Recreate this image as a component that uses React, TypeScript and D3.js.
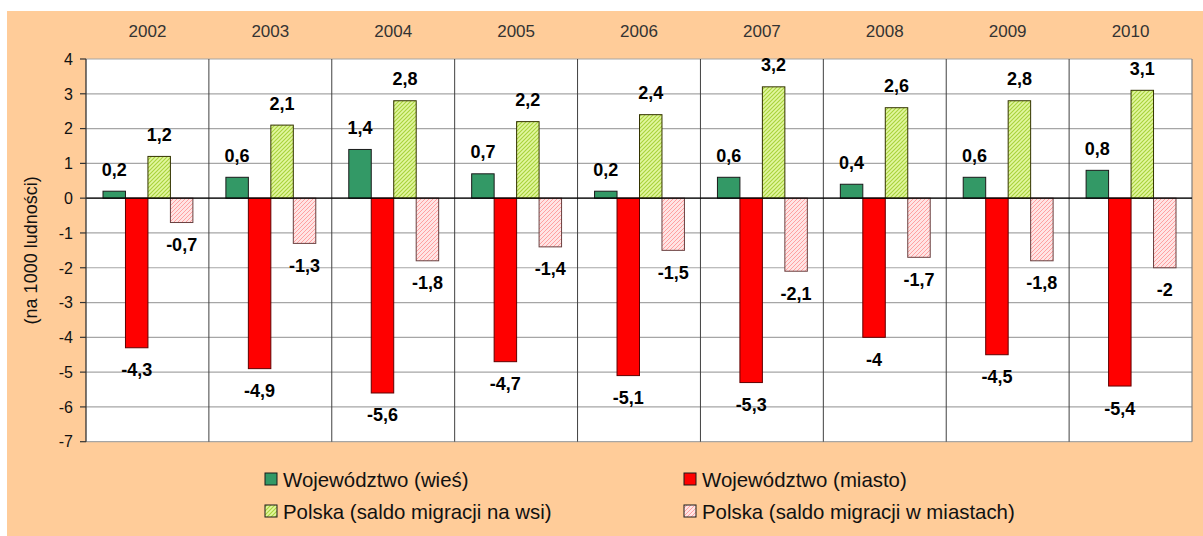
import React from "react";
import * as d3 from "d3";

const years = ["2002", "2003", "2004", "2005", "2006", "2007", "2008", "2009", "2010"];
const wojWies = [0.2, 0.6, 1.4, 0.7, 0.2, 0.6, 0.4, 0.6, 0.8];
const wojMiasto = [-4.3, -4.9, -5.6, -4.7, -5.1, -5.3, -4, -4.5, -5.4];
const polskaWies = [1.2, 2.1, 2.8, 2.2, 2.4, 3.2, 2.6, 2.8, 3.1];
const polskaMiasto = [-0.7, -1.3, -1.8, -1.4, -1.5, -2.1, -1.7, -1.8, -2];
const yTicks = [4, 3, 2, 1, 0, -1, -2, -3, -4, -5, -6, -7];
const seriesNames = [
  "Województwo (wieś)",
  "Województwo (miasto)",
  "Polska (saldo migracji na wsi)",
  "Polska (saldo migracji w miastach)",
];

const W = 1203;
const H = 536;
const plotL = 86;
const plotR = 1192;
const plotT = 59;
const plotB = 441.7;

const fills = ["#339966", "#ff0000", "url(#limeHatch)", "url(#pinkHatch)"];
const strokes = ["#1a1a1a", "#600000", "#333300", "#6a4040"];

const fmt = (v: number) => String(v).replace(".", ",");

export default function App() {
  const series = [wojWies, wojMiasto, polskaWies, polskaMiasto];
  const x = d3.scaleBand<string>().domain(years).range([plotL, plotR]).padding(0);
  const y = d3.scaleLinear().domain([-7, 4]).range([plotB, plotT]);
  const inner = d3
    .scaleBand<number>()
    .domain([0, 1, 2, 3])
    .range([17, x.bandwidth() - 16])
    .padding(0);
  const font = "'Liberation Sans', Arial, sans-serif";

  const legendPos = [
    { sx: 265, tx: 283, y: 479.5 },
    { sx: 684, tx: 702, y: 479.5 },
    { sx: 265, tx: 283, y: 511.5 },
    { sx: 684, tx: 702, y: 511.5 },
  ];

  return (
    <svg width={W} height={H} style={{ position: "absolute", left: 0, top: 0 }}>
      <defs>
        <pattern id="limeHatch" patternUnits="userSpaceOnUse" width="4" height="4">
          <rect width="4" height="4" fill="#e2f7a0" />
          <path d="M-1,1 l2,-2 M0,4 l4,-4 M3,5 l2,-2" stroke="#a8d23a" strokeWidth="1.1" />
        </pattern>
        <pattern id="pinkHatch" patternUnits="userSpaceOnUse" width="4" height="4">
          <rect width="4" height="4" fill="#ffe4e4" />
          <path d="M-1,1 l2,-2 M0,4 l4,-4 M3,5 l2,-2" stroke="#ffa0a0" strokeWidth="1" />
        </pattern>
      </defs>
      <rect x={0} y={0} width={W} height={H} fill="#ffffff" />
      <rect x={7} y={11} width={W - 7} height={H - 11} fill="#ffcc99" />
      <rect x={plotL} y={plotT} width={plotR - plotL} height={plotB - plotT} fill="#ffffff" />

      {/* horizontal gridlines */}
      {yTicks.map((t) => (
        <line
          key={"g" + t}
          x1={plotL}
          x2={plotR}
          y1={y(t)}
          y2={y(t)}
          stroke="#a6a6a6"
          strokeWidth={1.2}
        />
      ))}
      {/* vertical separators */}
      {years.map((yr, i) =>
        i === 0 ? null : (
          <line
            key={"v" + yr}
            x1={x(yr)}
            x2={x(yr)}
            y1={plotT}
            y2={plotB}
            stroke="#404040"
            strokeWidth={1}
          />
        )
      )}
      <line x1={plotR} x2={plotR} y1={plotT} y2={plotB} stroke="#808080" strokeWidth={1.2} />

      {/* bars */}
      {series.map((vals, si) =>
        vals.map((v, i) => {
          const bx = (x(years[i]) as number) + (inner(si) as number);
          const y0 = y(0);
          const y1 = y(v);
          return (
            <rect
              key={`b${si}-${i}`}
              x={bx}
              y={Math.min(y0, y1)}
              width={inner.bandwidth()}
              height={Math.abs(y1 - y0)}
              fill={fills[si]}
              stroke={strokes[si]}
              strokeWidth={1}
            />
          );
        })
      )}

      {/* zero line */}
      <line x1={plotL} x2={plotR} y1={y(0)} y2={y(0)} stroke="#000" strokeWidth={1.3} />
      {/* left axis */}
      <line x1={plotL} x2={plotL} y1={plotT} y2={plotB} stroke="#333" strokeWidth={1.3} />
      {yTicks.map((t) => (
        <g key={"t" + t}>
          <line x1={plotL - 6} x2={plotL} y1={y(t)} y2={y(t)} stroke="#333" strokeWidth={1.2} />
          <text
            x={plotL - 13}
            y={y(t)}
            dy="0.36em"
            textAnchor="end"
            fontFamily={font}
            fontSize={16}
            fill="#111"
          >
            {t}
          </text>
        </g>
      ))}

      {/* year labels */}
      {years.map((yr) => (
        <text
          key={"y" + yr}
          x={(x(yr) as number) + x.bandwidth() / 2}
          y={37}
          textAnchor="middle"
          fontFamily={font}
          fontSize={17}
          fill="#333"
        >
          {yr}
        </text>
      ))}

      {/* data labels */}
      {series.map((vals, si) =>
        vals.map((v, i) => {
          const cx = (x(years[i]) as number) + (inner(si) as number) + inner.bandwidth() / 2;
          const cy = v >= 0 ? y(v) - 22 : y(v) + 22;
          return (
            <text
              key={`l${si}-${i}`}
              x={cx}
              y={cy}
              dy="0.36em"
              textAnchor="middle"
              fontFamily={font}
              fontWeight="bold"
              fontSize={18}
              fill="#000"
            >
              {fmt(v)}
            </text>
          );
        })
      )}

      {/* y axis title */}
      <text
        transform={`translate(37,${(plotT + plotB) / 2 + 0}) rotate(-90)`}
        textAnchor="middle"
        fontFamily={font}
        fontSize={18}
        fill="#111"
      >
        (na 1000 ludności)
      </text>

      {/* legend */}
      {seriesNames.map((name, si) => {
        const p = legendPos[si];
        return (
          <g key={"lg" + si}>
            <rect
              x={p.sx}
              y={p.y - 6.5}
              width={12}
              height={12}
              fill={fills[si]}
              stroke="#1a1a1a"
              strokeWidth={1}
            />
            <text
              x={p.tx}
              y={p.y}
              dy="0.36em"
              fontFamily={font}
              fontSize={20.4}
              fill="#111"
            >
              {name}
            </text>
          </g>
        );
      })}
    </svg>
  );
}
